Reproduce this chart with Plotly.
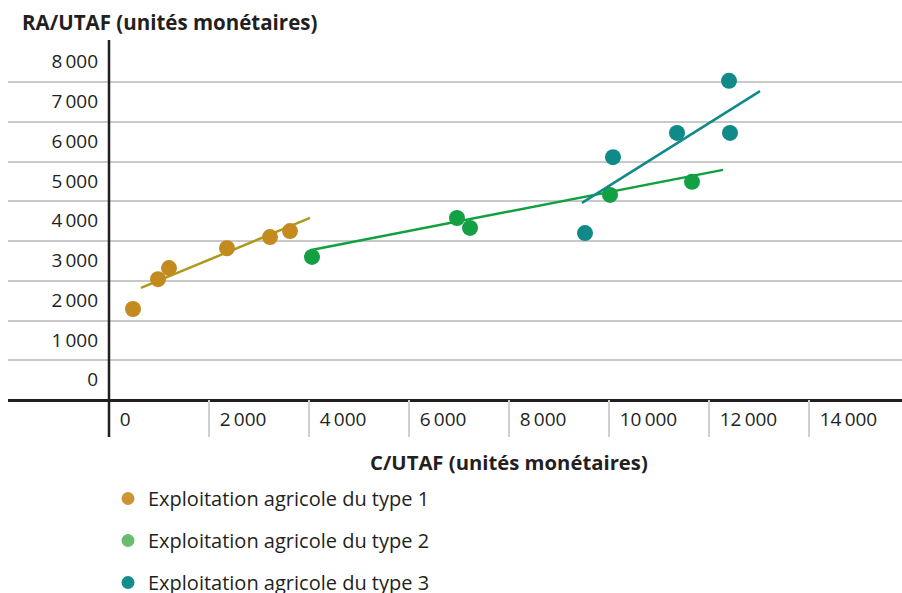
import plotly.graph_objects as go

# Axis ticks (C/UTAF on x, RA/UTAF on y), in monetary units
x_ticks = [0, 2000, 4000, 6000, 8000, 10000, 12000, 14000]
y_ticks = [0, 1000, 2000, 3000, 4000, 5000, 6000, 7000, 8000]

# Farms of type 1
type1_x = [480, 980, 1200, 2360, 3220, 3620]
type1_y = [2290, 3040, 3320, 3820, 4100, 4250]
type1_trend_x = [640, 4020]
type1_trend_y = [2820, 4580]

# Farms of type 2
type2_x = [4060, 6960, 7220, 10020, 11660]
type2_y = [3600, 4580, 4330, 5160, 5490]
type2_trend_x = [4020, 12280]
type2_trend_y = [3770, 5790]

# Farms of type 3
type3_x = [9520, 10080, 11360, 12400, 12420]
type3_y = [4200, 6110, 6720, 8030, 6720]
type3_trend_x = [9460, 13020]
type3_trend_y = [4960, 7770]

series_names = [
    "Exploitation agricole du type 1",
    "Exploitation agricole du type 2",
    "Exploitation agricole du type 3",
]
dot_colors = ["#c38b1f", "#13a043", "#0f8a89"]
line_colors = ["#ad9a1c", "#10a040", "#0f8a89"]
legend_colors = ["#cc9535", "#6bbd6e", "#138c8c"]

FONT = "Open Sans"
INK = "#231f20"

# plot area in pixels
L, R, T, B = 8, 902, 40, 437
PW, PH = R - L, B - T


def fmt(v):
    return f"{v:,}".replace(",", "\u2009")


fig = go.Figure()

groups = [
    (type1_x, type1_y, type1_trend_x, type1_trend_y),
    (type2_x, type2_y, type2_trend_x, type2_trend_y),
    (type3_x, type3_y, type3_trend_x, type3_trend_y),
]
for i, (px, py, tx, ty) in enumerate(groups):
    fig.add_trace(go.Scatter(
        x=tx, y=ty, mode="lines",
        line=dict(color=line_colors[i], width=2.5),
        showlegend=False, hoverinfo="skip",
    ))
    fig.add_trace(go.Scatter(
        x=px, y=py, mode="markers",
        marker=dict(color=dot_colors[i], size=16),
        name=series_names[i], showlegend=False,
    ))

# legend entries
for i, name in enumerate(series_names):
    fig.add_trace(go.Scatter(
        x=[None], y=[None], mode="markers",
        marker=dict(color=legend_colors[i], size=13),
        name=name, legendgroup=f"g{i}",
    ))

fig.update_layout(
    width=902, height=593,
    margin=dict(l=L, r=902 - R, t=T, b=593 - B, autoexpand=False),
    paper_bgcolor="white", plot_bgcolor="white",
    font=dict(family=FONT, size=18, color=INK),
    title=dict(
        text="<b>RA/UTAF (unités monétaires)</b>",
        x=22 / 902, xanchor="left", xref="container",
        y=1 - 23 / 593, yanchor="middle", yref="container",
        font=dict(family=FONT, size=20.5, color=INK),
    ),
    xaxis=dict(
        range=[-2020, 15860],
        tickvals=x_ticks, ticktext=[fmt(v) for v in x_ticks],
        tickangle=0,
        ticks="inside", ticklen=37, tickwidth=1.5, tickcolor="#cfcfcf",
        ticklabelposition="inside right",
        ticklabelstandoff=1, ticklabelshift=10,
        showgrid=False, zeroline=False, showline=False,
        tickfont=dict(family=FONT, size=19, color=INK),
    ),
    yaxis=dict(
        range=[-930, 9057],
        anchor="free", position=101 / PW,
        tickvals=y_ticks, ticktext=[fmt(v) for v in y_ticks],
        ticks="", ticklabelposition="outside top",
        ticklabelstandoff=11, ticklabelshift=-7,
        showgrid=True, gridcolor="#c9c9c9", gridwidth=1.5,
        zeroline=True, zerolinecolor=INK, zerolinewidth=2.5,
        showline=False,
        tickfont=dict(family=FONT, size=19, color=INK),
    ),
    legend=dict(
        x=108 / 902, xref="container", xanchor="left",
        y=1 - 479 / 593, yref="container", yanchor="top",
        tracegroupgap=13,
        font=dict(family=FONT, size=20, color=INK),
        bgcolor="rgba(0,0,0,0)",
    ),
    annotations=[dict(
        text="<b>C/UTAF (unités monétaires)</b>",
        x=(509 - L) / PW, xref="paper", xanchor="center",
        y=-(462 - B) / PH, yref="paper", yanchor="middle",
        showarrow=False,
        font=dict(family=FONT, size=20.3, color=INK),
    )],
    shapes=[dict(
        type="line", xref="x", yref="paper",
        x0=0, x1=0, y0=0, y1=1, layer="above",
        line=dict(color=INK, width=2.5),
    )],
)

fig.write_html("out.html")
